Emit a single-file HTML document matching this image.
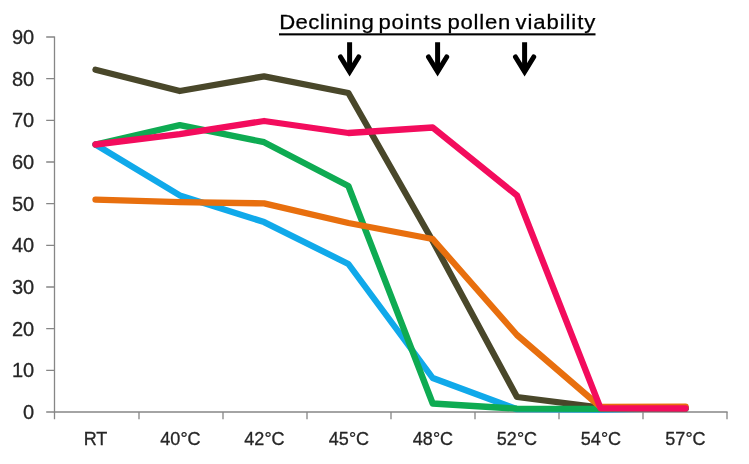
<!DOCTYPE html>
<html>
<head>
<meta charset="utf-8">
<title>Declining points pollen viability</title>
<style>
html,body{margin:0;padding:0;background:#fff;}
body{width:749px;height:464px;overflow:hidden;}
svg{display:block;}
text{font-family:"Liberation Sans",sans-serif;}
.ax{fill:#262626;font-size:20px;stroke:#262626;stroke-width:0.3px;}
.axx{fill:#262626;font-size:19.2px;stroke:#262626;stroke-width:0.3px;}
.ttl{fill:#000;font-size:20.3px;stroke:#000;stroke-width:0.25px;}
</style>
</head>
<body>
<svg width="749" height="464" viewBox="0 0 749 464">
<rect width="749" height="464" fill="#fff"/>
<!-- axes -->
<g stroke="#868686" stroke-width="1.3" fill="none">
<path d="M54.5 36.4V412H727.6"/>
<path d="M46.2 37.0H54.5M46.2 78.7H54.5M46.2 120.3H54.5M46.2 162.0H54.5M46.2 203.7H54.5M46.2 245.4H54.5M46.2 287.0H54.5M46.2 328.7H54.5M46.2 370.4H54.5M46.2 412.0H54.5"/>
<path d="M54.5 412V419.2M139.0 412V419.2M223.0 412V419.2M307.0 412V419.2M391.0 412V419.2M475.0 412V419.2M559.0 412V419.2M643.0 412V419.2M727.0 412V419.2"/>
</g>
<!-- y labels -->
<g class="ax" text-anchor="end">
<text x="34.2" y="43.8">90</text>
<text x="34.2" y="85.5">80</text>
<text x="34.2" y="127.1">70</text>
<text x="34.2" y="168.8">60</text>
<text x="34.2" y="210.5">50</text>
<text x="34.2" y="252.2">40</text>
<text x="34.2" y="293.8">30</text>
<text x="34.2" y="335.5">20</text>
<text x="34.2" y="377.2">10</text>
<text x="34.2" y="418.8">0</text>
</g>
<!-- x labels -->
<g class="axx" text-anchor="middle">
<text transform="translate(95.5,445.3) scale(0.94,1)">RT</text>
<text transform="translate(180.5,445.3) scale(0.94,1)">40°C</text>
<text transform="translate(264.5,445.3) scale(0.94,1)">42°C</text>
<text transform="translate(349.0,445.3) scale(0.94,1)">45°C</text>
<text transform="translate(433.0,445.3) scale(0.94,1)">48°C</text>
<text transform="translate(517.0,445.3) scale(0.94,1)">52°C</text>
<text transform="translate(601.0,445.3) scale(0.94,1)">54°C</text>
<text transform="translate(685.5,445.3) scale(0.94,1)">57°C</text>
</g>
<!-- series -->
<g fill="none" stroke-width="6.3" stroke-linejoin="round" stroke-linecap="round">
<polyline stroke="#49472a" points="95.5,69.7 179.8,91.0 264.1,76.3 348.4,93.0 432.7,241.0 517.0,397.0 600.6,407.6 685.6,408.5"/>
<polyline stroke="#10a9ea" points="95.5,144.5 179.8,195.4 264.1,222.1 348.4,264.0 432.7,378.0 517.0,409.2 600.6,409.5 685.6,408.0"/>
<polyline stroke="#0eab52" points="95.5,144.5 179.8,125.1 264.1,142.2 348.4,186.0 432.7,403.5 517.0,408.7 600.6,408.9 685.6,408.6"/>
<polyline stroke="#e86f0e" points="95.5,199.7 179.8,202.1 264.1,203.4 348.4,223.0 432.7,239.0 517.0,335.0 600.6,407.0 685.6,406.7"/>
<polyline stroke="#f30c5d" points="95.5,144.5 179.8,134.2 264.1,121.0 348.4,133.0 432.7,127.5 517.0,195.5 600.6,408.4 685.6,408.5"/>
</g>
<!-- title -->
<g class="ttl">
<text transform="translate(0,29.4) scale(1.09,1)"><tspan x="256.15" textLength="86.7" lengthAdjust="spacing">Declining</tspan> <tspan x="347.25" textLength="57.8" lengthAdjust="spacing">points</tspan> <tspan x="410.55" textLength="57.6" lengthAdjust="spacing">pollen</tspan> <tspan x="472.94" textLength="73.2" lengthAdjust="spacing">viability</tspan></text>
</g>
<rect x="279" y="33.3" width="316.5" height="2.1" fill="#000"/>
<!-- arrows -->
<g fill="none" stroke="#000" stroke-width="5">
<path d="M349.6 42.2V72M437.6 42.2V72M524.6 42.2V72"/>
<path d="M340.5 57L349.6 71.8L358.7 57M428.5 57L437.6 71.8L446.7 57M515.5 57L524.6 71.8L533.7 57" stroke-linecap="round" stroke-linejoin="miter"/>
</g>
</svg>
</body>
</html>
